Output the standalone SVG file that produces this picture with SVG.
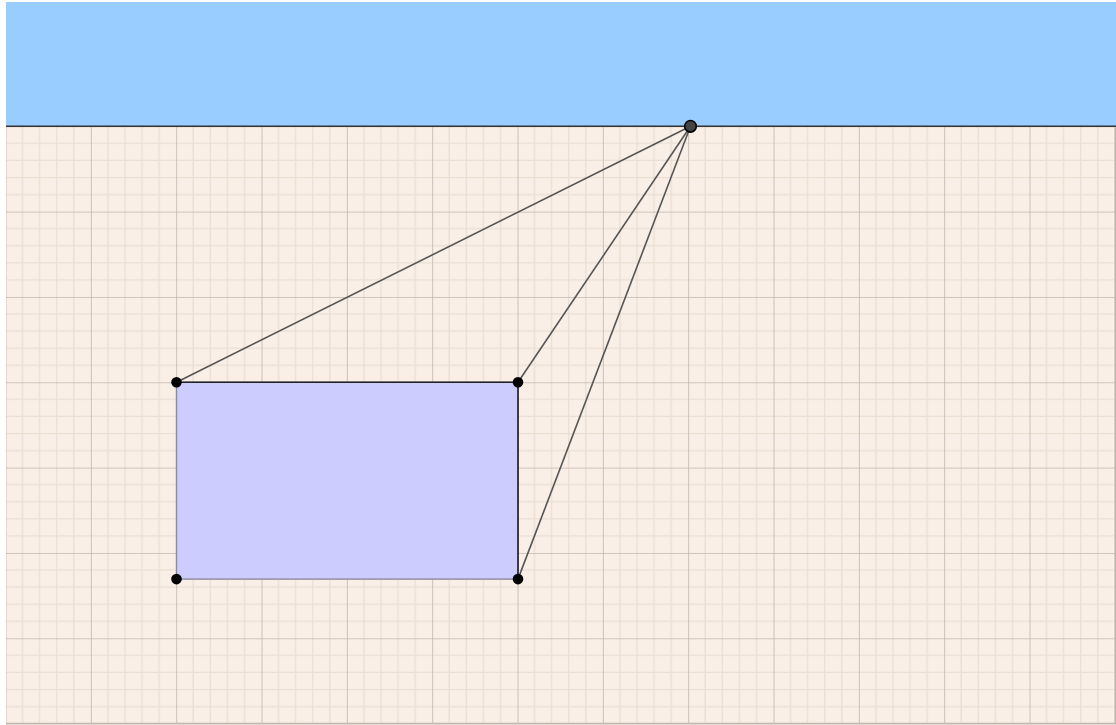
<svg xmlns="http://www.w3.org/2000/svg" width="1116" height="725" viewBox="0 0 1116 725">
<style>
.ray{stroke:#555;stroke-width:1.6;fill:none}
.pt{fill:#000}
.minor{stroke:#ebdfd4;stroke-width:1.3}
.major{stroke:#c2b6ad;stroke-width:1.6}
</style>
<defs>
<pattern id="grid" patternUnits="userSpaceOnUse" x="5.5" y="126.3" width="85.333" height="85.333">
<rect width="85.333" height="85.333" fill="#f9efe6"/>
<g class="minor">
<line x1="17.067" y1="0" x2="17.067" y2="85.333"/>
<line x1="34.133" y1="0" x2="34.133" y2="85.333"/>
<line x1="51.2" y1="0" x2="51.2" y2="85.333"/>
<line x1="68.267" y1="0" x2="68.267" y2="85.333"/>
<line y1="17.067" x1="0" y2="17.067" x2="85.333"/>
<line y1="34.133" x1="0" y2="34.133" x2="85.333"/>
<line y1="51.2" x1="0" y2="51.2" x2="85.333"/>
<line y1="68.267" x1="0" y2="68.267" x2="85.333"/>
</g>
<g class="major">
<line x1="0" y1="0" x2="0" y2="85.333"/>
<line x1="0" y1="0" x2="85.333" y2="0"/>
</g>
</pattern>
</defs>
<rect width="1116" height="725" fill="#ffffff"/>
<g id="ground">
<rect x="6" y="126" width="1110" height="598" fill="url(#grid)"/>
<line class="major" x1="1115.3" y1="126" x2="1115.3" y2="724"/>
<line class="major" x1="6" y1="723.6" x2="1116" y2="723.6"/>
</g>
<g id="sky">
<rect x="6" y="2" width="1110" height="124.3" fill="#99ccff"/>
<line x1="6" y1="126.3" x2="1116" y2="126.3" stroke="#333" stroke-width="1.6"/>
</g>
<g id="rectangle">
<rect x="176.5" y="382.3" width="341.5" height="196.8" fill="#ccccff" stroke="#8a8aa0" stroke-width="1.4"/>
<line x1="176.5" y1="382.3" x2="518" y2="382.3" stroke="#222" stroke-width="1.6"/>
<line x1="518" y1="382.3" x2="518" y2="579.1" stroke="#222" stroke-width="1.6"/>
</g>
<g id="connectors">
<line class="ray" x1="176.5" y1="382.3" x2="690.5" y2="126.3"/>
<line class="ray" x1="518" y1="382.3" x2="690.5" y2="126.3"/>
<line class="ray" x1="518" y1="579.1" x2="690.5" y2="126.3"/>
</g>
<g id="points">
<circle class="pt" cx="176.5" cy="382.3" r="5.3"/>
<circle class="pt" cx="518" cy="382.3" r="5.3"/>
<circle class="pt" cx="176.5" cy="579.1" r="5.3"/>
<circle class="pt" cx="518" cy="579.1" r="5.3"/>
</g>
<g id="vanishing-point">
<circle cx="690.5" cy="126.3" r="5.8" fill="#444" stroke="#000" stroke-width="1.6"/>
</g>
</svg>
